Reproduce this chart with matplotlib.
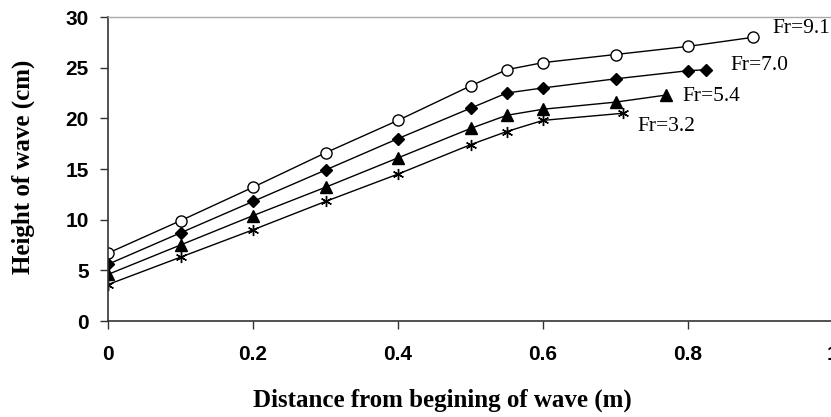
import matplotlib
matplotlib.use("Agg")
import matplotlib.pyplot as plt

# distance from beginning of wave (m) and wave height (cm) per Froude number
x_91 = [0, 0.1, 0.2, 0.3, 0.4, 0.5, 0.55, 0.6, 0.7, 0.8, 0.89]
h_91 = [6.7, 9.9, 13.2, 16.6, 19.8, 23.2, 24.8, 25.5, 26.3, 27.1, 28.0]
x_70 = [0, 0.1, 0.2, 0.3, 0.4, 0.5, 0.55, 0.6, 0.7, 0.8, 0.825]
h_70 = [5.6, 8.7, 11.8, 14.9, 18.0, 21.0, 22.5, 23.0, 23.9, 24.7, 24.8]
x_54 = [0, 0.1, 0.2, 0.3, 0.4, 0.5, 0.55, 0.6, 0.7, 0.77]
h_54 = [4.6, 7.5, 10.4, 13.2, 16.1, 19.0, 20.3, 20.9, 21.6, 22.3]
x_32 = [0, 0.1, 0.2, 0.3, 0.4, 0.5, 0.55, 0.6, 0.71]
h_32 = [3.6, 6.3, 9.0, 11.8, 14.5, 17.4, 18.7, 19.8, 20.5]

labels = ["Fr=9.1", "Fr=7.0", "Fr=5.4", "Fr=3.2"]
xticks = [0, 0.2, 0.4, 0.6, 0.8, 1]
xtick_labels = ["0", "0.2", "0.4", "0.6", "0.8", "1"]
yticks = [0, 5, 10, 15, 20, 25, 30]

fig = plt.figure(figsize=(8.31, 4.17), dpi=100)
ax = fig.add_axes([0.13, 0.2302, 0.8724, 0.729])

ax.plot(x_91, h_91, "k-", lw=1, marker="o", ms=8, mfc="white", mec="k", mew=1)
ax.plot(x_70, h_70, "k-", lw=1, marker="D", ms=6.5, mfc="k", mec="k")
ax.plot(x_54, h_54, "k-", lw=1, marker="^", ms=8.5, mfc="k", mec="k")
ax.plot(x_32, h_32, "k-", lw=1, marker=(6, 2, 0), ms=8, mec="k", mew=1)

# curve labels
tfont = dict(family="Liberation Serif", fontsize=15.5, va="center", ha="left")
ax.text(0.917, 28.9, labels[0], **tfont)
ax.text(0.858, 25.2, labels[1], **tfont)
ax.text(0.793, 22.2, labels[2], **tfont)
ax.text(0.730, 19.15, labels[3], **tfont)

ax.set_xlim(0, 1)
ax.set_ylim(0, 30)
ax.set_xticks(xticks, xtick_labels)
ax.set_yticks(yticks)
for lab in ax.get_xticklabels() + ax.get_yticklabels():
    lab.set_fontfamily("Liberation Sans")
    lab.set_fontweight("bold")
    lab.set_fontsize(15)
ax.tick_params(axis="x", direction="out", length=6, width=1, pad=11, color="#333333")
ax.tick_params(axis="y", direction="out", length=6, width=1, pad=8, color="#333333")

ax.spines["right"].set_visible(False)
ax.spines["top"].set_color("#aaaaaa")
ax.spines["top"].set_linewidth(1)
ax.spines["left"].set_color("#333333")
ax.spines["bottom"].set_color("#333333")
ax.spines["left"].set_linewidth(1.2)
ax.spines["bottom"].set_linewidth(1.2)

lfont = dict(family="Liberation Serif", fontweight="bold", fontsize=18,
             ha="center", va="center")
fig.text(0.532, 0.041, "Distance from begining of wave (m)", **lfont)
fig.text(0.028, 0.5995, "Height of wave (cm)", rotation=90, **lfont)

fig.savefig("out.png", dpi=100)
